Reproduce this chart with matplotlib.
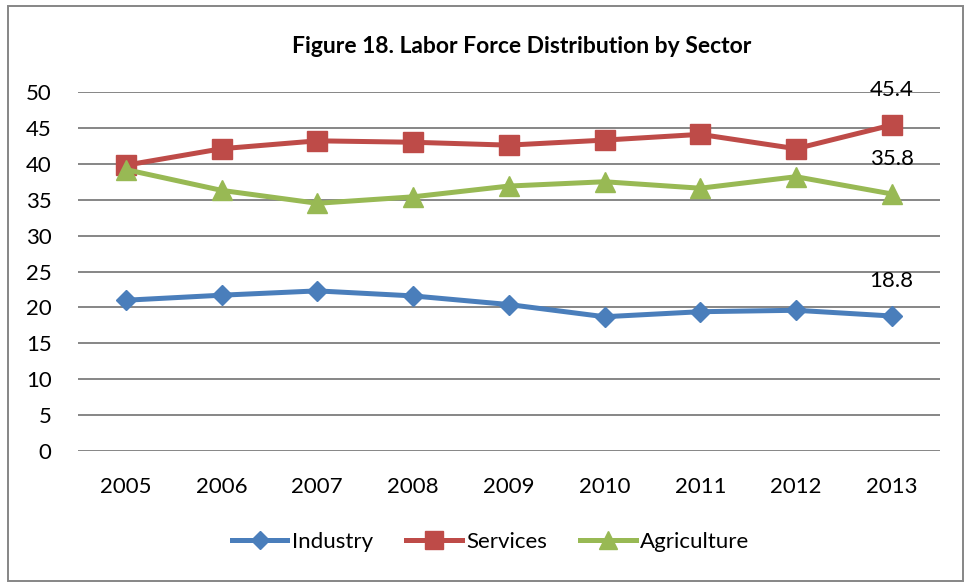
import numpy as np
import matplotlib
matplotlib.use("Agg")
import matplotlib.pyplot as plt
from matplotlib.patches import Rectangle

# data
years = ['2005', '2006', '2007', '2008', '2009', '2010', '2011', '2012', '2013']
industry = [21.0, 21.7, 22.3, 21.6, 20.4, 18.7, 19.4, 19.6, 18.8]
services = [39.8, 42.1, 43.2, 43.0, 42.6, 43.3, 44.1, 42.1, 45.4]
agriculture = [39.2, 36.3, 34.5, 35.4, 36.9, 37.5, 36.6, 38.2, 35.8]
yticks = [0, 5, 10, 15, 20, 25, 30, 35, 40, 45, 50]

plt.rcParams['font.family'] = ['Lato', 'DejaVu Sans']

fig = plt.figure(figsize=(9.66, 5.83), dpi=100)
ax = fig.add_axes([0.0807, 0.2264, 0.892, 0.6158])

x = np.arange(len(years))
ax.plot(x, industry, color='#4A7EBB', lw=3.6, marker='D', ms=10, label='Industry', zorder=3)
ax.plot(x, services, color='#BE4B48', lw=3.6, marker='s', ms=14, label='Services', zorder=3)
ax.plot(x, agriculture, color='#98B954', lw=3.6, marker='^', ms=15, label='Agriculture', zorder=4)

# value labels on the last year only
for series in (services, agriculture, industry):
    ax.annotate(f'{series[-1]:.1f}', (x[-1], series[-1]), xytext=(0, 25),
                textcoords='offset points', ha='center', va='center', fontsize=16)

ax.set_xlim(-0.5, len(years) - 0.5)
ax.set_ylim(0, 50)
ax.set_xticks(x)
ax.set_xticklabels(years)
ax.set_yticks(yticks)
ax.tick_params(axis='both', length=0, labelsize=16)
ax.tick_params(axis='y', pad=19)
ax.tick_params(axis='x', pad=19)
ax.grid(axis='y', color='#868686', lw=1.4)
ax.set_axisbelow(True)
for s in ax.spines.values():
    s.set_visible(False)

fig.text(0.54, 0.92, 'Figure 18. Labor Force Distribution by Sector',
         ha='center', va='center', fontsize=16.5, fontweight='bold')

fig.legend(loc='center', bbox_to_anchor=(0.508, 0.071), ncol=3, frameon=False,
           fontsize=16, handlelength=2.5, handletextpad=0.2, columnspacing=1.5,
           markerscale=0.9)

# chart border
fig.patches.append(Rectangle((8 / 966, 2 / 583), 955 / 966, 575 / 583,
                             transform=fig.transFigure, fill=False,
                             edgecolor='#868686', lw=1.4))

fig.savefig('out.png', dpi=100)
